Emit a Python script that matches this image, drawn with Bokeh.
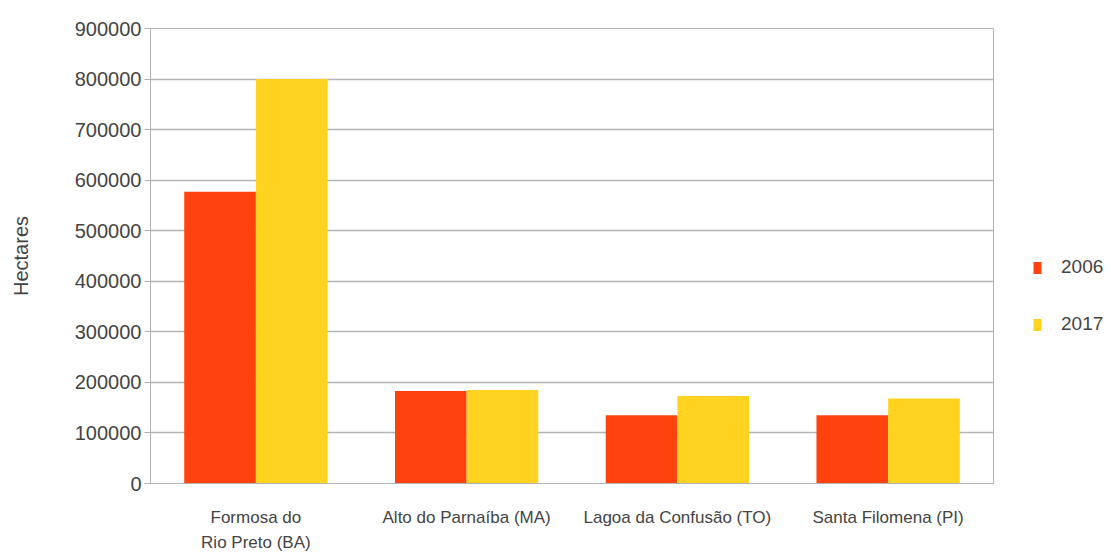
from bokeh.plotting import figure
from bokeh.models import Range1d, Legend, LegendItem, ColumnDataSource, FixedTicker
from bokeh.transform import dodge
from bokeh.embed import file_html
from bokeh.resources import INLINE

categories = ["Formosa do\nRio Preto (BA)", "Alto do Parnaíba (MA)", "Lagoa da Confusão (TO)", "Santa Filomena (PI)"]
years = ["2006", "2017"]
values_2006 = [577000, 183000, 135000, 135000]
values_2017 = [800000, 185000, 173000, 168000]
y_ticks = [0, 100000, 200000, 300000, 400000, 500000, 600000, 700000, 800000, 900000]

src = ColumnDataSource(dict(cat=categories, v2006=values_2006, v2017=values_2017))

p = figure(x_range=categories, frame_width=843, frame_height=455, output_backend="svg",
           toolbar_location=None, min_border_left=150, min_border_right=118,
           min_border_top=28, min_border_bottom=72)
p.y_range = Range1d(0, 900000)

r1 = p.vbar(x=dodge("cat", -0.17, range=p.x_range), top="v2006", width=0.34, source=src,
            fill_color="#ff420e", line_color=None)
r2 = p.vbar(x=dodge("cat", 0.17, range=p.x_range), top="v2017", width=0.34, source=src,
            fill_color="#ffd320", line_color=None)

grey = "#b3b3b3"
p.xgrid.grid_line_color = None
p.ygrid.grid_line_color = grey
p.ygrid.grid_line_width = 1.5
p.outline_line_color = grey
p.yaxis.ticker = FixedTicker(ticks=y_ticks)
p.yaxis.formatter.use_scientific = False
for ax in (p.xaxis, p.yaxis):
    ax.axis_line_color = grey
    ax.major_label_text_font = "Liberation Sans"
    ax.major_label_text_color = "#444444"
    ax.minor_tick_line_color = None
p.yaxis.major_tick_line_color = grey
p.yaxis.major_tick_out = 6
p.yaxis.major_tick_in = 0
p.yaxis.major_label_standoff = 3
p.yaxis.major_label_text_font_size = "20px"
p.yaxis.axis_label = "Hectares"
p.yaxis.axis_label_text_font = "Liberation Sans"
p.yaxis.axis_label_text_font_style = "normal"
p.yaxis.axis_label_text_font_size = "20px"
p.yaxis.axis_label_text_color = "#444444"
p.yaxis.axis_label_standoff = 40
p.xaxis.major_tick_line_color = None
p.xaxis.major_label_text_font_size = "17px"
p.xaxis.major_label_text_line_height = 1.35
p.xaxis.major_label_standoff = 18
p.x_range.range_padding = 0

legend = Legend(items=[LegendItem(label=years[0], renderers=[r1]),
                       LegendItem(label=years[1], renderers=[r2])],
                label_text_font="Liberation Sans", label_text_font_size="19px",
                label_text_color="#444444", glyph_width=10, glyph_height=15,
                spacing=35, border_line_color=None, background_fill_alpha=0,
                padding=0, margin=0, label_standoff=19, location=(39, 148))
p.add_layout(legend, "right")

open("out.html", "w").write(file_html(p, INLINE))
